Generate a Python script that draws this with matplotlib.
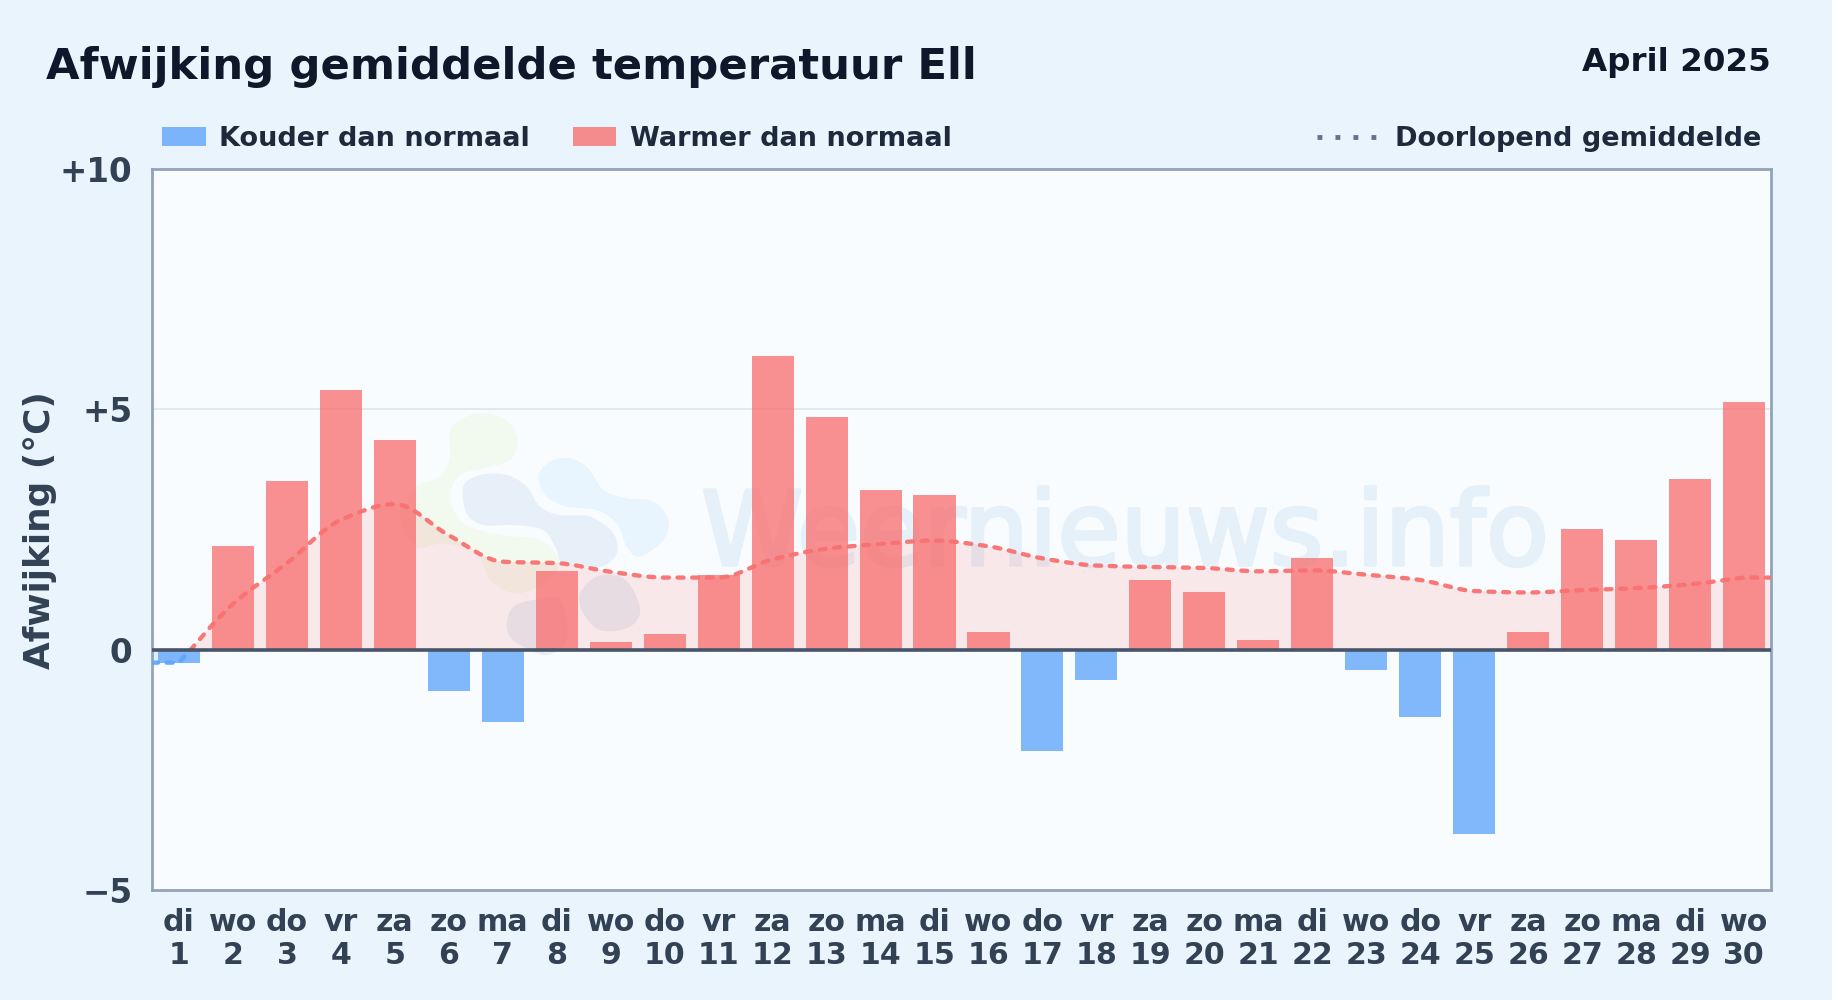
import matplotlib
matplotlib.use("Agg")
import matplotlib.pyplot as plt
from matplotlib.patches import PathPatch, Rectangle
from matplotlib.path import Path
from matplotlib.lines import Line2D
import matplotlib.patheffects as pe
import numpy as np

days = ["di", "wo", "do", "vr", "za", "zo", "ma", "di", "wo", "do", "vr", "za", "zo", "ma", "di",
        "wo", "do", "vr", "za", "zo", "ma", "di", "wo", "do", "vr", "za", "zo", "ma", "di", "wo"]
dates = list(range(1, 31))
deviation = [-0.27, 2.16, 3.50, 5.40, 4.37, -0.85, -1.50, 1.63, 0.15, 0.33,
             1.55, 6.10, 4.85, 3.33, 3.22, 0.36, -2.10, -0.63, 1.45, 1.20,
             0.20, 1.90, -0.42, -1.40, -3.83, 0.36, 2.52, 2.28, 3.55, 5.15]
running_mean = [-0.27, 0.95, 1.80, 2.70, 3.03, 2.38, 1.83, 1.80, 1.62, 1.50,
                1.50, 1.88, 2.10, 2.20, 2.27, 2.15, 1.90, 1.75, 1.72, 1.70,
                1.63, 1.65, 1.56, 1.45, 1.22, 1.19, 1.24, 1.28, 1.36, 1.50]
y_ticks = [-5, 0, 5, 10]
y_tick_labels = ["\u22125", "0", "+5", "+10"]

W, H = 1832, 1000
BG = "#e9f4fc"
RED = "#f87171"
BLUE = "#60a5fa"

# logo outlines, traced in pixels of a crop starting at (400, 400), 3x
logo_green = [(150, 90), (200, 50), (265, 40), (330, 70), (352, 125), (330, 180), (250, 205),
              (180, 225), (150, 290), (190, 370), (300, 405), (420, 420), (475, 480), (450, 540),
              (350, 580), (270, 540), (230, 460), (130, 430), (48, 440), (0, 350), (50, 260),
              (120, 230), (150, 170)]
logo_dark = [(190, 260), (240, 225), (320, 225), (380, 260), (420, 320), (480, 345), (570, 350),
             (640, 400), (650, 460), (600, 500), (490, 490), (470, 450), (430, 390), (340, 375),
             (250, 375), (200, 340)]
logo_light = [(415, 230), (450, 185), (510, 175), (565, 205), (610, 270), (680, 295), (760, 305),
              (805, 360), (790, 420), (720, 470), (680, 440), (650, 370), (590, 330), (500, 320),
              (440, 290)]
logo_low_right = [(540, 580), (590, 530), (660, 530), (700, 570), (720, 640), (680, 685),
                  (600, 690), (550, 640)]
logo_low_left = [(320, 670), (340, 620), (400, 600), (480, 600), (500, 720), (440, 765),
                 (370, 740), (330, 710)]

plt.rcParams["font.family"] = "DejaVu Sans"
plt.rcParams["font.weight"] = "bold"


def px(x, y):
    # pixel position, measured from top left, to figure fraction
    return x / W, 1 - y / H


def monotoneCurve(xs, ys):
    # smooth curve through the points without overshoot, open ends keep the secant slope
    xs = np.asarray(xs, dtype=float)
    ys = np.asarray(ys, dtype=float)
    d = np.diff(ys) / np.diff(xs)
    m = np.zeros(len(xs))
    m[0] = d[0]
    m[-1] = d[-1]
    for i in range(1, len(xs) - 1):
        if d[i - 1] * d[i] > 0:
            m[i] = 2 * d[i - 1] * d[i] / (d[i - 1] + d[i])
    verts = [(xs[0], ys[0])]
    codes = [Path.MOVETO]
    for i in range(len(xs) - 1):
        h = (xs[i + 1] - xs[i]) / 3
        verts += [(xs[i] + h, ys[i] + m[i] * h),
                  (xs[i + 1] - h, ys[i + 1] - m[i + 1] * h),
                  (xs[i + 1], ys[i + 1])]
        codes += [Path.CURVE4] * 3
    return verts, codes


def blobPath(points):
    # closed catmull-rom outline through the traced points, in figure fractions
    pts = np.array([px(400 + p[0] / 3, 400 + p[1] / 3) for p in points])
    n = len(pts)
    verts = [tuple(pts[0])]
    codes = [Path.MOVETO]
    for i in range(n):
        p0, p1, p2, p3 = pts[i - 1], pts[i], pts[(i + 1) % n], pts[(i + 2) % n]
        verts += [tuple(p1 + (p2 - p0) / 6), tuple(p2 - (p3 - p1) / 6), tuple(p2)]
        codes += [Path.CURVE4] * 3
    return Path(verts, codes)


fig = plt.figure(figsize=(W / 100, H / 100), dpi=100, facecolor=BG)
x0, y0 = px(152, 890)
x1, y1 = px(1771, 169)
ax = fig.add_axes([x0, y0, x1 - x0, y1 - y0], facecolor="#f8fcff")

x = np.arange(len(days))
ax.set_xlim(-0.5, len(days) - 0.5)
ax.set_ylim(-5, 10)

# watermark
for outline, col in [(logo_green, "#f2f9ee"), (logo_dark, "#e7eff8"), (logo_light, "#e8f5fe"),
                     (logo_low_right, "#e6eef6"), (logo_low_left, "#e6eef6")]:
    ax.add_patch(PathPatch(blobPath(outline), transform=fig.transFigure, facecolor=col,
                           edgecolor="none", zorder=0.5))
mark = ax.text(*px(1125, 565), "Weernieuws.info", transform=fig.transFigure, fontsize=74,
               fontweight="normal", color="#e5f0f9", ha="center", va="baseline", zorder=0.6)
mark.set_path_effects([pe.withStroke(linewidth=2.5, foreground="#e5f0f9")])

ax.axhline(5, color="#e2e8f0", lw=1.4, zorder=1)

# curve through the days, straight to the axes edges
verts, codes = monotoneCurve(x, running_mean)
left = (-0.5, running_mean[0])
right = (len(days) - 0.5, running_mean[-1])
verts = [left] + verts + [right]
codes = [Path.MOVETO, Path.LINETO] + codes[1:] + [Path.LINETO]
area_path = Path(verts + [(right[0], 0), (left[0], 0), (left[0], 0)],
                 codes + [Path.LINETO, Path.LINETO, Path.CLOSEPOLY])
curve_path = Path(verts, codes)

above = Rectangle((-0.5, 0), len(days), 10, transform=ax.transData)
below = Rectangle((-0.5, -5), len(days), 5, transform=ax.transData)
for clip, col in [(above, RED), (below, BLUE)]:
    area = PathPatch(area_path, facecolor=col, edgecolor="none", alpha=0.14, zorder=1.5)
    ax.add_patch(area)
    area.set_clip_path(clip)

colors = [RED if v >= 0 else BLUE for v in deviation]
ax.bar(x, deviation, width=0.78, color=colors, alpha=0.78, linewidth=0, zorder=2)

for clip, col in [(above, RED), (below, BLUE)]:
    line = PathPatch(curve_path, facecolor="none", edgecolor=col, lw=3.1, alpha=0.95,
                     linestyle=(0, (1.4, 2.0)), capstyle="round", zorder=3)
    ax.add_patch(line)
    line.set_clip_path(clip)

ax.axhline(0, color="#475569", lw=2.6, zorder=4)

for s in ax.spines.values():
    s.set_color("#94a3b8")
    s.set_linewidth(2)

ax.set_yticks(y_ticks)
ax.set_yticklabels(y_tick_labels, fontsize=23.5, color="#334155")
ax.set_xticks(x)
ax.set_xticklabels([f"{d}\n{n}" for d, n in zip(days, dates)], fontsize=21.6, color="#334155",
                   linespacing=1.18)
ax.tick_params(axis="both", length=0)
ax.tick_params(axis="x", pad=13)
ax.tick_params(axis="y", pad=14)

fig.text(*px(40, 530), "Afwijking (\u00b0C)", fontsize=25.8, color="#334155", rotation=90,
         ha="center", va="center")

fig.text(*px(46, 79), "Afwijking gemiddelde temperatuur Ell", fontsize=31.2, color="#0f172a",
         ha="left", va="baseline")
fig.text(*px(1771, 71), "April 2025", fontsize=23.4, color="#0f172a", ha="right", va="baseline")

# legend row
for lo, hi, col in [(162, 206, BLUE), (573, 616, RED)]:
    fx, fy = px(lo, 146)
    fig.patches.append(Rectangle((fx, fy), (hi - lo) / W, 19 / H, transform=fig.transFigure,
                                 facecolor=col, alpha=0.8, edgecolor="none"))
fig.text(*px(219, 146), "Kouder dan normaal", fontsize=19.5, color="#1e293b", va="baseline")
fig.text(*px(630, 146), "Warmer dan normaal", fontsize=19.5, color="#1e293b", va="baseline")
fig.text(*px(1395, 146), "Doorlopend gemiddelde", fontsize=19.5, color="#1e293b", va="baseline")
lx0, ly = px(1317, 137)
lx1, _ = px(1376, 137)
fig.add_artist(Line2D([lx0, lx1], [ly, ly], transform=fig.transFigure, color="#64748b", lw=3.5,
                      linestyle=(0, (1, 2.7))))

fig.savefig("out.png", dpi=100, facecolor=BG)
